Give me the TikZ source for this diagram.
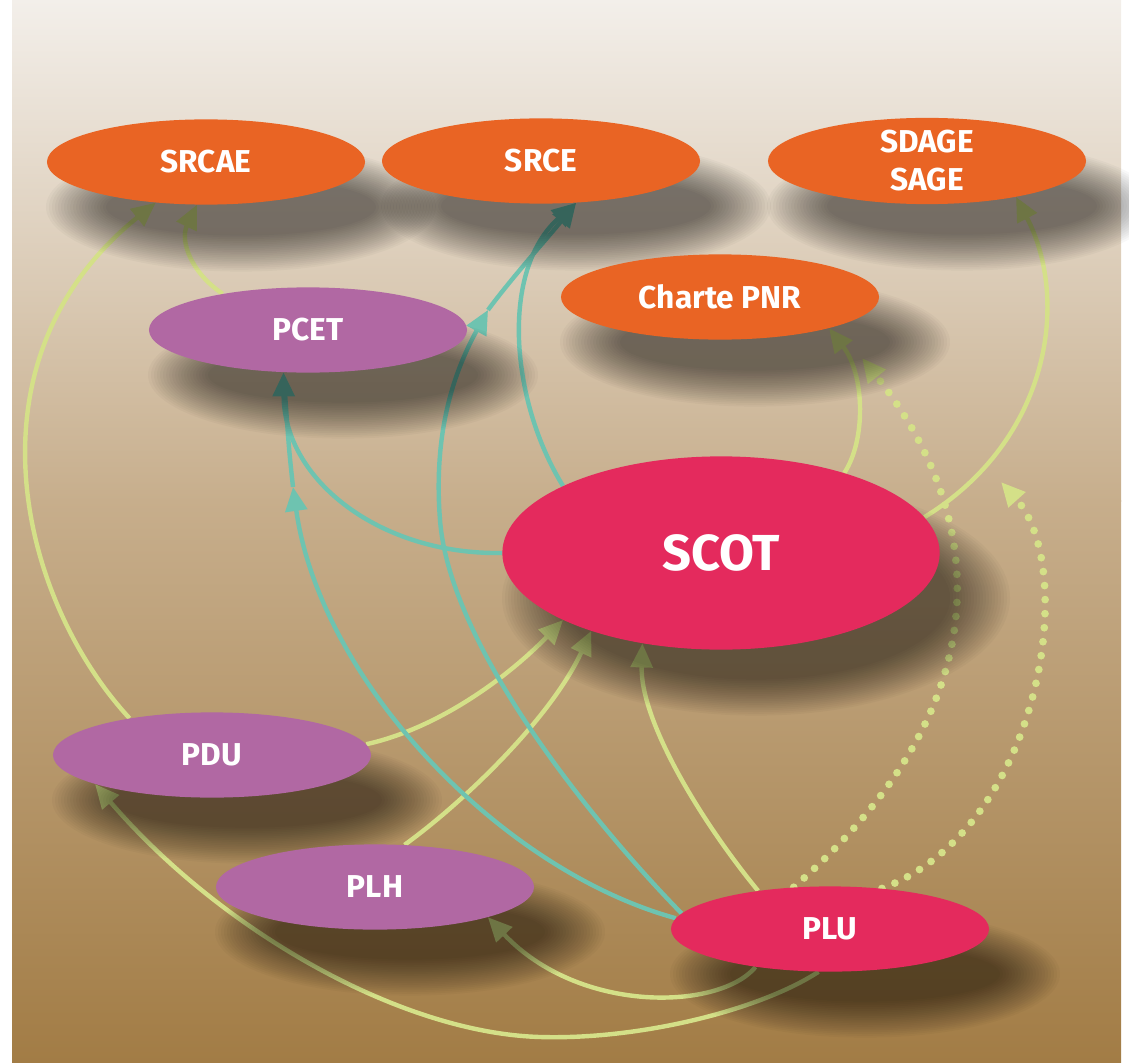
\documentclass[tikz,border=0pt]{standalone}
\usepackage{fontspec}
\setmainfont{Fira Sans}
\usetikzlibrary{arrows.meta,shapes.geometric}

\definecolor{goalcol}{HTML}{E96424}
\definecolor{plancol}{HTML}{B168A3}
\definecolor{hubcol}{HTML}{E42A5D}
\definecolor{limecol}{HTML}{D4E088}
\definecolor{tealcol}{HTML}{6EC3B0}
\definecolor{bgA}{HTML}{A27C45}
\definecolor{bgB}{HTML}{AD8A58}
\definecolor{bgD}{HTML}{C7AE8C}
\definecolor{bgE}{HTML}{D9C8B0}
\definecolor{bgG}{HTML}{F3EFEA}

\pgfdeclarelayer{ground}
\pgfdeclarelayer{links}
\pgfdeclarelayer{shade}
\pgfsetlayers{ground,links,shade,main}

\begin{document}
\begin{tikzpicture}[x=0.025cm,y=-0.025cm,
  blob/.style={ellipse,inner sep=0pt,text=white,align=center,
    font=\bfseries\fontsize{22.5}{27}\selectfont,
    minimum width=7.95cm,minimum height=2.13cm},
  goal/.style={blob,fill=goalcol},
  plan/.style={blob,fill=plancol},
  hub/.style={blob,fill=hubcol},
  tip/.style={-{Triangle[length=6mm,width=5.4mm]}},
  limeln/.style={tip,draw=limecol,line width=1.1mm},
  tealln/.style={tip,draw=tealcol,line width=1.1mm},
  dotln/.style={limeln,line width=5.5pt,line cap=round,dash pattern=on 0pt off 10pt},
  dusk/.style={black,opacity=0.028}]
\useasboundingbox (0,0) rectangle (1129,1063);
\begin{pgfonlayer}{ground}
  \shade[top color=bgG,middle color=bgE,bottom color=bgD] (12,0) rectangle (1121,501);
  \shade[top color=bgD,middle color=bgB,bottom color=bgA] (12,500) rectangle (1121,1063);
\end{pgfonlayer}
% documents
\node[goal](srcae) at (206,162){SRCAE};
\node[goal](srce) at (541,161){SRCE};
\node[goal](sdage) at (927,161){SDAGE\\SAGE};
\node[goal](pnr) at (720,297){Charte PNR};
\node[plan](pcet) at (308,330){PCET};
\node[hub,minimum width=10.93cm,minimum height=4.83cm,
  font=\bfseries\fontsize{36}{40}\selectfont](scot) at (721,553){SCOT};
\node[plan](pdu) at (212,755){PDU};
\node[plan](plh) at (375,887){PLH};
\node[hub](plu) at (830,929){PLU};
\coordinate (pjoin) at (488,310);
\coordinate (pkink) at (293,487);
\coordinate (pnrtip) at (862,358);
\coordinate (sagetip) at (1001,482);
% soft shadows
\begin{pgfonlayer}{shade}
  \foreach \n/\a/\b in {srcae/159/43,srce/159/43,sdage/159/43,pnr/159/43,
      pcet/159/42,scot/218/96,pdu/159/42,plh/159/42,plu/159/42}
    \foreach \d in {-24,-21,...,36}
      \fill[dusk,shift={(\n.center)}] (35,45) ellipse [x radius=\a+\d,y radius=\b+0.6*\d];
\end{pgfonlayer}
% links
\begin{pgfonlayer}{links}
  \draw[limeln](pdu.156) .. controls (20,600) and (-40,360) .. (srcae.219);
  \draw[limeln](pcet.157) .. controls (190,272) and (180,240) .. (srcae.258);
  \draw[limeln](scot.10) .. controls (1050,440) and (1070,300) .. (sdage.338);
  \draw[limeln](scot.33) .. controls (866,440) and (865,375) .. (pnr.344);
  \draw[limeln](pdu.4) .. controls (440,728) and (510,675) .. (scot.203);
  \draw[limeln](plh.55) .. controls (460,805) and (550,720) .. (scot.211);
  \draw[limeln](plu.152) .. controls (700,820) and (640,720) .. (scot.229);
  \draw[limeln](plu.207) .. controls (720,1010) and (580,1015) .. (plh.345);
  \draw[limeln](plu.255) .. controls (760,1010) and (640,1040) .. (540,1037)
    .. controls (400,1033) and (220,930) .. (pdu.194);
  \draw[dotln](plu.131) .. controls (1020,690) and (975,500) .. (pnrtip);
  \draw[dotln](plu.38) .. controls (1040,830) and (1080,570) .. (sagetip);
  \draw[tealln](scot.180) .. controls (380,555) and (284,480) .. (pcet.240);
  \draw[tealln](plu.176) .. controls (500,870) and (320,680) .. (pkink);
  \draw[tealln,-,shorten >=4mm](pkink) .. controls (289,450) .. (pcet.240);
  \draw[tealln](plu.174) .. controls (600,830) and (450,650) .. (440,520)
    .. controls (433,430) and (455,370) .. (pjoin);
  \draw[tealln](pjoin) .. controls (510,280) and (550,235) .. (srce.310);
  \draw[tealln](scot.157) .. controls (510,400) and (500,270) .. (srce.310);
\end{pgfonlayer}
\end{tikzpicture}
\end{document}
